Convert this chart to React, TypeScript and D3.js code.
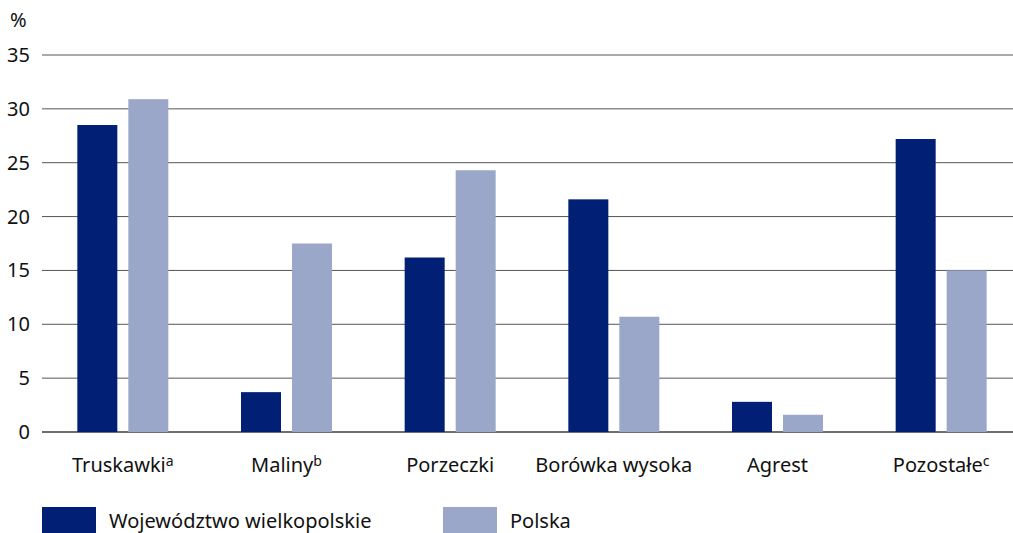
import React, { useEffect, useRef } from 'react';
import * as d3 from 'd3';

const categories = ['Truskawki', 'Maliny', 'Porzeczki', 'Borówka wysoka', 'Agrest', 'Pozostałe'];
const supers = ['a', 'b', '', '', '', 'c'];
const wielkopolskie = [28.5, 3.7, 16.2, 21.6, 2.8, 27.2];
const polska = [30.9, 17.5, 24.3, 10.7, 1.6, 15.0];
const yTicks = [0, 5, 10, 15, 20, 25, 30, 35];
const seriesNames = ['Województwo wielkopolskie', 'Polska'];
const colors = ['#001f75', '#9aa7c9'];

const App: React.FC = () => {
  const svgRef = useRef<SVGSVGElement | null>(null);

  useEffect(() => {
    const svg = d3.select(svgRef.current);
    svg.selectAll('*').remove();
    const font = "'Noto Sans', sans-serif";
    const fs = 20;

    const x = d3.scaleBand().domain(categories).range([41, 1023]).paddingInner(0).paddingOuter(0);
    const y = d3.scaleLinear().domain([0, 35]).range([432, 55]);
    const barW = 40;
    const gap = 11;

    // gridlines
    svg
      .append('g')
      .selectAll('line')
      .data(yTicks)
      .enter()
      .append('line')
      .attr('x1', 42)
      .attr('x2', 1013)
      .attr('y1', d => y(d))
      .attr('y2', d => y(d))
      .attr('stroke', d => (d === 0 ? '#6e6e6e' : '#555'))
      .attr('stroke-width', d => (d === 0 ? 2 : 1));

    svg
      .append('g')
      .selectAll('text')
      .data(yTicks)
      .enter()
      .append('text')
      .attr('x', 30)
      .attr('y', d => y(d) + 7)
      .attr('text-anchor', 'end')
      .attr('font-family', font)
      .attr('font-size', fs)
      .attr('fill', '#111')
      .text(d => d);

    svg
      .append('text')
      .attr('x', 10)
      .attr('y', 27)
      .attr('font-family', font)
      .attr('font-size', fs)
      .attr('fill', '#111')
      .text('%');

    const series = [wielkopolskie, polska];
    series.forEach((vals, si) => {
      svg
        .append('g')
        .selectAll('rect')
        .data(vals)
        .enter()
        .append('rect')
        .attr('x', (d, i) => x(categories[i])! + x.bandwidth() / 2 - barW - gap / 2 + si * (barW + gap))
        .attr('y', d => y(d))
        .attr('width', barW)
        .attr('height', d => y(0) - y(d))
        .attr('fill', colors[si]);
    });

    const labels = svg
      .append('g')
      .selectAll('text')
      .data(categories)
      .enter()
      .append('text')
      .attr('x', d => x(d)! + x.bandwidth() / 2)
      .attr('y', 472)
      .attr('text-anchor', 'middle')
      .attr('font-family', font)
      .attr('font-size', fs)
      .attr('fill', '#111');
    labels.append('tspan').text(d => d);
    labels
      .append('tspan')
      .attr('dy', -6)
      .attr('font-size', 14)
      .text((d, i) => supers[i]);

    const legX = [42, 443];
    seriesNames.forEach((name, i) => {
      svg
        .append('rect')
        .attr('x', legX[i])
        .attr('y', 507)
        .attr('width', 54)
        .attr('height', 26)
        .attr('fill', colors[i]);
      svg
        .append('text')
        .attr('x', legX[i] + 67)
        .attr('y', 528)
        .attr('font-family', font)
        .attr('font-size', fs)
        .attr('fill', '#111')
        .text(name);
    });
  }, []);

  return (
    <div style={{ position: 'absolute', left: 0, top: 0 }}>
      <svg ref={svgRef} width={1013} height={533} style={{ display: 'block' }}></svg>
    </div>
  );
};

export default App;
